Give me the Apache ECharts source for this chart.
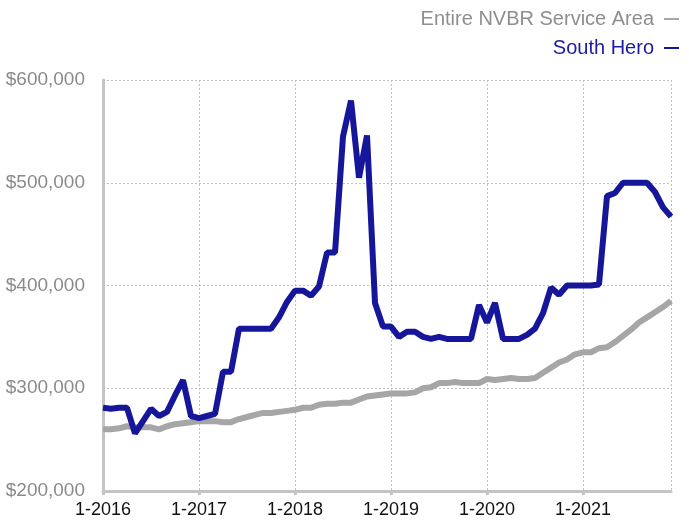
<!DOCTYPE html>
<html>
<head>
<meta charset="utf-8">
<script src="https://cdn.jsdelivr.net/npm/echarts@6/dist/echarts.min.js"></script>
<style>html,body{margin:0;padding:0;background:#fff;}#c{width:689px;height:523px;}</style>
</head>
<body>
<div id="c"></div>
<script>
const years = [2016, 2017, 2018, 2019, 2020, 2021];
const months = [];
years.forEach(y => { for (let m = 1; m <= 12; m++) months.push(m + '-' + y); });

const seriesNames = ['Entire NVBR Service Area', 'South Hero'];

const nvbrValues = [
  260000, 260000, 261000, 263000, 262000, 262000, 262000, 260000, 263000, 265000, 266000, 267000,
  268000, 268000, 268000, 267000, 267000, 270000, 272000, 274000, 276000, 276000, 277000, 278000,
  279000, 281000, 281000, 284000, 285000, 285000, 286000, 286000, 289000, 292000, 293000, 294000,
  295000, 295000, 295000, 296000, 300000, 301000, 305000, 305000, 306000, 305000, 305000, 305000,
  309000, 308000, 309000, 310000, 309000, 309000, 310000, 315000, 320000, 325000, 328000, 333000,
  335000, 335000, 339000, 340000, 345000, 351000, 357000, 364000, 369000, 374000, 379000, 385000
];

const southHeroValues = [
  281000, 280000, 281000, 281000, 256000, 268000, 280000, 273000, 277000, 293000, 308000, 273000,
  271000, 273000, 275000, 316000, 316000, 358000, 358000, 358000, 358000, 358000, 369000, 384000,
  395000, 395000, 390000, 399000, 432000, 432000, 545000, 580000, 505000, 546000, 383000, 360000,
  360000, 350000, 355000, 355000, 350000, 348000, 350000, 348000, 348000, 348000, 348000, 381000,
  364000, 383000, 348000, 348000, 348000, 352000, 358000, 373000, 398000, 391000, 400000, 400000,
  400000, 400000, 401000, 487000, 490000, 500000, 500000, 500000, 500000, 491000, 476000, 467000
];

const yMin = 200000, yMax = 600000, yStep = 100000;

const GRAY = '#a6a6a6';
const BLUE = '#16169a';
const FONT = '"Liberation Sans", Arial, Helvetica, sans-serif';

const chart = echarts.init(document.getElementById('c'), null, {renderer: 'canvas'});
const lastIdx = months.length - 1;
chart.setOption({
  animation: false,
  backgroundColor: '#ffffff',
  textStyle: {fontFamily: FONT},
  legend: {
    orient: 'vertical',
    right: 5,
    top: 4,
    align: 'right',
    itemGap: 9,
    itemWidth: 15,
    itemHeight: 2,
    icon: 'rect',
    selectedMode: false,
    data: [
      {name: seriesNames[0], textStyle: {color: '#8e8e8e'}},
      {name: seriesNames[1], textStyle: {color: '#1c1ca0'}}
    ],
    textStyle: {fontSize: 20, fontFamily: FONT, padding: [0, 5, 0, 0]}
  },
  grid: {left: 103, right: 18, top: 80, bottom: 32, containLabel: false, outerBoundsMode: 'none'},
  xAxis: {
    type: 'category',
    data: months,
    boundaryGap: false,
    axisLine: {show: true, lineStyle: {color: '#c4c4c4', width: 3}},
    axisTick: {show: true, length: 4, lineStyle: {color: '#c4c4c4', width: 3}, interval: (i) => i % 12 === 0},
    axisLabel: {interval: (i) => i % 12 === 0, color: '#111', fontSize: 18, margin: 10, fontFamily: FONT},
    splitLine: {show: true, interval: (i) => i % 12 === 0 || i === lastIdx, lineStyle: {color: '#c0c0c0', type: [2, 2], width: 1}}
  },
  yAxis: {
    type: 'value',
    min: yMin,
    max: yMax,
    interval: yStep,
    axisLine: {show: true, lineStyle: {color: '#c4c4c4', width: 3}},
    axisTick: {show: false},
    axisLabel: {color: '#8a8a8a', fontSize: 19, margin: 18, fontFamily: FONT,
      formatter: v => '$' + v.toLocaleString('en-US')},
    splitLine: {show: true, lineStyle: {color: '#c0c0c0', type: [2, 2], width: 1}}
  },
  series: [
    {name: seriesNames[0], type: 'line', data: nvbrValues, showSymbol: false, symbol: 'none',
      color: GRAY, lineStyle: {color: GRAY, width: 6}, z: 2},
    {name: seriesNames[1], type: 'line', data: southHeroValues, showSymbol: false, symbol: 'none',
      color: BLUE, lineStyle: {color: BLUE, width: 6}, z: 3}
  ]
});
</script>
</body>
</html>
